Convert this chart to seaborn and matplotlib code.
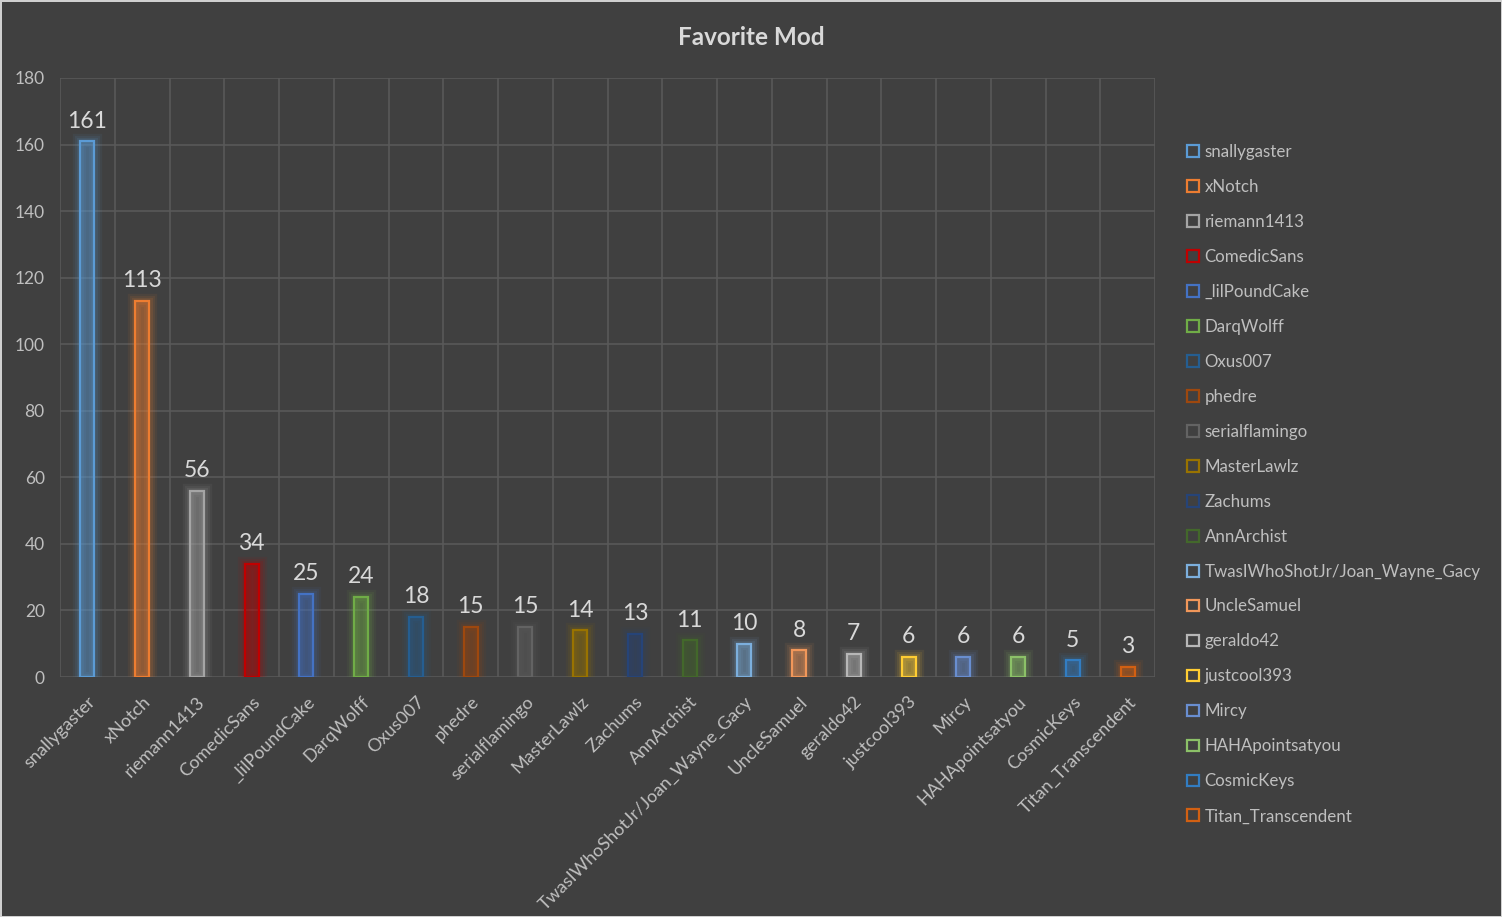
import matplotlib
matplotlib.use("Agg")
import matplotlib.pyplot as plt
import matplotlib.patheffects as pe
from matplotlib.patches import Patch
import seaborn as sns
import numpy as np

# data
mods = ["snallygaster", "xNotch", "riemann1413", "ComedicSans", "_lilPoundCake",
        "DarqWolff", "Oxus007", "phedre", "serialflamingo", "MasterLawlz",
        "Zachums", "AnnArchist", "TwasIWhoShotJr/Joan_Wayne_Gacy", "UncleSamuel",
        "geraldo42", "justcool393", "Mircy", "HAHApointsatyou", "CosmicKeys",
        "Titan_Transcendent"]
votes = [161, 113, 56, 34, 25, 24, 18, 15, 15, 14, 13, 11, 10, 8, 7, 6, 6, 6, 5, 3]
colors = ["#5B9BD5", "#ED7D31", "#A5A5A5", "#C00000", "#4472C4", "#70AD47",
          "#255E91", "#9E480E", "#636363", "#997300", "#264478", "#43682B",
          "#7CAFDD", "#F1975A", "#B7B7B7", "#FFCD33", "#698ED0", "#8CC168",
          "#327DC2", "#D26012"]

bg = "#404040"
grid_c = "#595959"
txt_c = "#BFBFBF"

sns.set_style("dark")
plt.rcParams['font.family'] = ['Lato', 'DejaVu Sans']

fig = plt.figure(figsize=(15.02, 9.17), dpi=100, facecolor=bg)
fig.patch.set_edgecolor("#D0D0D0")
fig.patch.set_linewidth(2)
ax = fig.add_axes([60 / 1502, 1 - 677 / 917, 1095 / 1502, 599 / 917])
ax.set_facecolor(bg)

sns.barplot(x=mods, y=votes, hue=mods, palette=colors, width=0.26,
            legend=False, ax=ax, saturation=1)

# outline bars with a soft glow like the Excel style
for p, c in zip(ax.patches, colors):
    p.set_facecolor(matplotlib.colors.to_rgba(c, 0.22))
    p.set_edgecolor(c)
    p.set_linewidth(1.6)
    p.set_path_effects([pe.Stroke(linewidth=11, foreground=c, alpha=0.07),
                        pe.Stroke(linewidth=8, foreground=c, alpha=0.09),
                        pe.Stroke(linewidth=5, foreground=c, alpha=0.12),
                        pe.Normal()])

for cont in ax.containers:
    ax.bar_label(cont, padding=7, fontsize=16.5, color="#D9D9D9")

ax.set_ylim(0, 180)
ax.set_xlim(-0.5, len(mods) - 0.5)
ax.set_yticks(range(0, 181, 20))
ax.set_xticks(np.arange(-0.5, len(mods), 1), minor=True)
ax.grid(True, axis="y", color=grid_c, linewidth=1.2)
ax.grid(True, axis="x", which="minor", color=grid_c, linewidth=1.2)
ax.grid(False, axis="x", which="major")
ax.set_axisbelow(True)
for s in ax.spines.values():
    s.set_visible(False)

ax.tick_params(axis="both", which="both", length=0, colors=txt_c, labelsize=12.5)
ax.tick_params(axis="y", pad=11)
ax.tick_params(axis="x", pad=12, labelsize=13)
plt.setp(ax.get_xticklabels(), rotation=45, ha="right", rotation_mode="anchor")
ax.set_xlabel("")
ax.set_ylabel("")

fig.suptitle("Favorite Mod", x=0.5, y=0.972, fontsize=17.5, fontweight="bold", color="#D9D9D9")

handles = [Patch(facecolor="none", edgecolor=c, linewidth=1.6) for c in colors]
leg = fig.legend(handles, mods, loc="upper left", bbox_to_anchor=(1180 / 1502, 1 - 137 / 917),
                 frameon=False, fontsize=12.2, labelcolor=txt_c, handlelength=0.7,
                 handleheight=0.7, handletextpad=0.35, labelspacing=1.12, borderaxespad=0)

fig.savefig("out.png", dpi=100, facecolor=bg, edgecolor=fig.patch.get_edgecolor())
